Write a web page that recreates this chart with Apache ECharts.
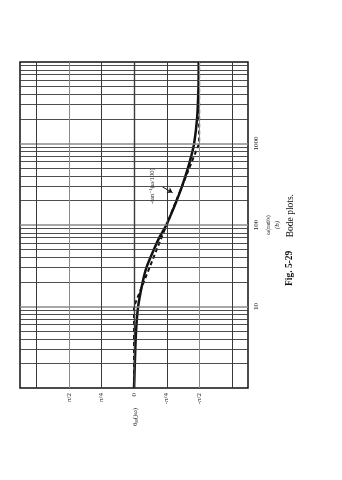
<!DOCTYPE html>
<html>
<head>
<meta charset="utf-8">
<script src="https://cdn.jsdelivr.net/npm/echarts@6/dist/echarts.min.js"></script>
<style>html,body{margin:0;padding:0;background:#fff}#c{width:342px;height:480px}</style>
</head>
<body>
<div id="c"></div>
<script>
// Frequency samples (rad/s) and read phase values (rad) of the exact curve -tan^-1(ω/100)
const omega = [1, 2, 5, 10, 20, 30, 50, 70, 100, 150, 200, 300, 500, 700, 1000, 2000, 5000, 10000];
const phaseExact = [0, -0.02, -0.05, -0.10, -0.21, -0.30, -0.48, -0.61, -0.78, -0.93, -1.03, -1.16, -1.30, -1.38, -1.45, -1.52, -1.555, -1.56];
// Straight-line (asymptotic) approximation, dashed
const omegaApprox = [1, 10, 1000, 10000];
const phaseApprox = [0, 0, -1.5708, -1.5708];
// Tick labels
const freqLabels = {10: '10', 100: '100', 1000: '1000'};
const phaseLabels = {'2': 'π/2', '1': 'π/4', '0': '0', '-1': '-π/4', '-2': '-π/2'};
// Grid line positions
const freqGrid = [2,3,4,5,6,7,8,9,10,20,30,40,50,60,70,80,90,100,200,300,400,500,600,700,800,900,1000,2000,3000,4000,5000,6000,7000,8000,9000];
const phaseGridQuarters = [-3, -2, -1, 0, 1, 2, 3];
// Annotation (data coordinates: [phase, omega])
const annoText = '-tan\u207B\u00B9(\u03C9/100)';
const annoLabelAt = [-0.45, 300];
const annoArrowFrom = [-0.69, 292];
const annoArrowTo = [-0.93, 250];

const Q = Math.PI / 4;
const chart = echarts.init(document.getElementById('c'), null, {renderer: 'canvas'});
const serif = '"Liberation Serif", "DejaVu Serif", serif';

const isDecade = v => v === 10 || v === 100 || v === 1000;
const gridLines = [];
freqGrid.forEach(v => gridLines.push({yAxis: v, lineStyle: {type: 'solid', color: isDecade(v) ? '#8a8a8a' : '#3a3a3a', width: isDecade(v) ? 1.5 : 0.9}}));
phaseGridQuarters.forEach(k => gridLines.push({xAxis: k * Q, lineStyle: {type: 'solid', color: (Math.abs(k) === 2) ? '#8a8a8a' : '#3a3a3a', width: (k === 0) ? 1.4 : 1}}));

chart.setOption({
  animation: false,
  backgroundColor: '#fff',
  grid: {left: 20, right: 94, top: 62, bottom: 92, show: true, borderColor: '#111', borderWidth: 1.5, backgroundColor: 'transparent'},
  xAxis: {
    type: 'value', inverse: true, min: -7 * Math.PI / 8, max: 7 * Math.PI / 8, interval: Math.PI / 8,
    axisLine: {show: false}, axisTick: {show: false}, splitLine: {show: false},
    axisLabel: {
      rotate: 90, margin: 5, fontFamily: serif, fontSize: 7, color: '#222',
      showMinLabel: false, showMaxLabel: false,
      formatter: v => { const k = Math.round(v / Q); if (Math.abs(v / Q - k) > 0.01) return ''; const s = phaseLabels[String(k)]; return s === undefined ? '' : s; }
    }
  },
  yAxis: {
    type: 'log', logBase: 10, min: 1, max: 10000, position: 'right',
    axisLine: {show: false}, axisTick: {show: false}, splitLine: {show: false}, minorTick: {show: false},
    axisLabel: {
      rotate: 90, margin: 5, fontFamily: serif, fontSize: 7, color: '#222',
      showMinLabel: false, showMaxLabel: false,
      formatter: v => freqLabels[Math.round(v)] || ''
    }
  },
  series: [
    {
      type: 'line', data: [], silent: true, z: 1,
      markLine: {silent: true, symbol: 'none', label: {show: false}, animation: false, lineStyle: {type: 'solid'}, data: gridLines}
    },
    {
      type: 'line', z: 3, symbol: 'none', silent: true,
      data: omegaApprox.map((w, i) => [phaseApprox[i], w]),
      lineStyle: {color: '#111', width: 2, type: [4, 3]}
    },
    {
      type: 'line', z: 4, symbol: 'none', silent: true, smooth: 0.3,
      data: omega.map((w, i) => [phaseExact[i], w]),
      lineStyle: {color: '#111', width: 2.5},
      markLine: {
        silent: true, symbol: ['none', 'arrow'], symbolSize: 5, label: {show: false},
        lineStyle: {color: '#111', width: 1, type: 'solid'},
        data: [[{coord: annoArrowFrom}, {coord: annoArrowTo}]]
      }
    }
  ]
});

const lp = chart.convertToPixel({gridIndex: 0}, annoLabelAt);
chart.setOption({
  graphic: [
    {type: 'text', x: lp[0], y: lp[1], rotation: Math.PI / 2, style: {text: annoText, font: '6.5px ' + serif, fill: '#222', align: 'center', verticalAlign: 'middle'}},
    {type: 'text', x: 268, y: 225, rotation: Math.PI / 2, style: {text: 'ω(rad/s)', font: '6px ' + serif, fill: '#222', align: 'center', verticalAlign: 'middle'}},
    {type: 'text', x: 277, y: 225, rotation: Math.PI / 2, style: {text: '(b)', font: 'italic 7px ' + serif, fill: '#222', align: 'center', verticalAlign: 'middle'}},
    {type: 'text', x: 290, y: 240, rotation: Math.PI / 2, style: {
      text: '{b|Fig. 5-29}    {n|Bode plots.}', align: 'center', verticalAlign: 'middle',
      rich: {b: {font: 'bold 9.5px ' + serif, fill: '#111'}, n: {font: '9.5px ' + serif, fill: '#111'}}
    }},
    {type: 'text', x: 135, y: 417, rotation: Math.PI / 2, style: {
      text: '{t|θ}{s|H}{t|(jω)}', align: 'center', verticalAlign: 'middle',
      rich: {t: {font: '7px ' + serif, fill: '#222'}, s: {font: '5px ' + serif, fill: '#222', padding: [3, 0, 0, 0]}}
    }}
  ]
});
</script>
</body>
</html>
